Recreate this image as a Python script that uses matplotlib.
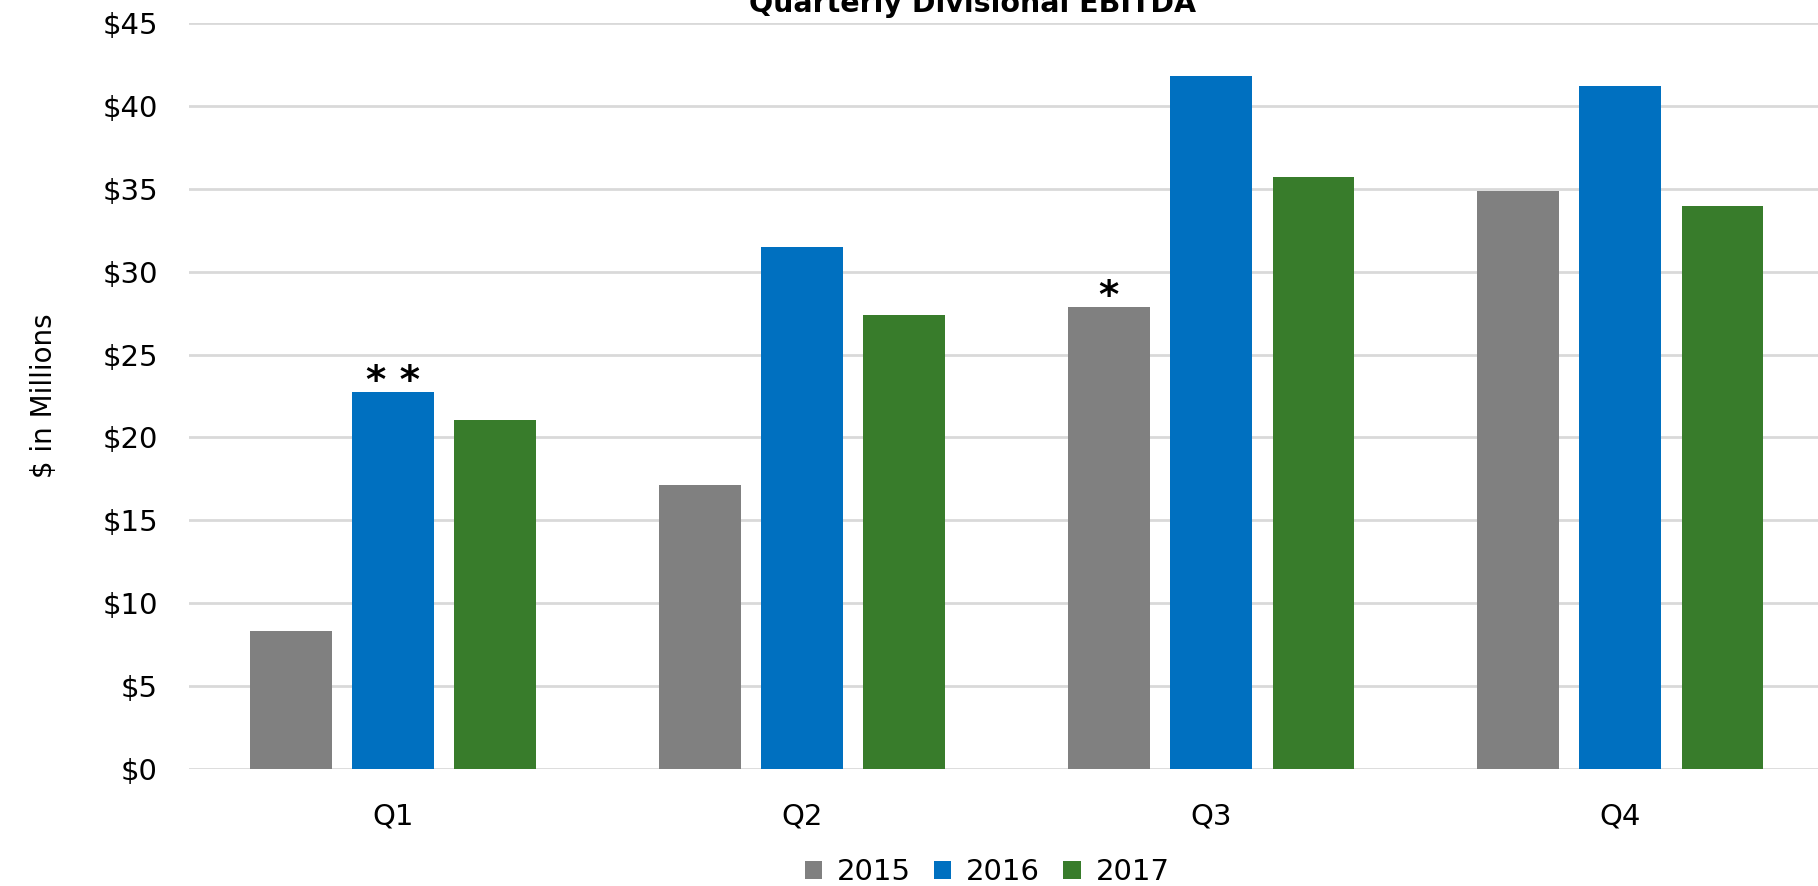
import matplotlib
matplotlib.use("Agg")
from matplotlib import pyplot as plt
import numpy as np

quarters = ['Q1', 'Q2', 'Q3', 'Q4']
years = ['2015', '2016', '2017']
ebitda_2015 = [8.35, 17.15, 27.85, 34.85]
ebitda_2016 = [22.75, 31.5, 41.8, 41.2]
ebitda_2017 = [21.05, 27.4, 35.7, 33.95]
notes = {(0, 1): '* *', (2, 0): '*'}  # (quarter, year index) -> footnote mark

colors = ['#808080', '#0070C0', '#387C2B']
series = [ebitda_2015, ebitda_2016, ebitda_2017]

fig = plt.figure(figsize=(18.18, 8.86), dpi=100)
ax = fig.add_axes([0.1037, 0.132, 0.9, 0.842])

x = np.arange(len(quarters))
w = 0.2
step = 0.25
for i, (vals, c, y) in enumerate(zip(series, colors, years)):
    ax.bar(x + (i - 1) * step, vals, width=w, color=c, label=y, zorder=3)

for (q, i), mark in notes.items():
    ax.text(x[q] + (i - 1) * step, series[i][q] - 0.55, mark, ha='center', va='bottom',
            fontsize=28, fontweight='bold', zorder=4)

ax.set_xlim(-0.5, len(quarters) - 0.5)
ax.set_ylim(0, 45)
ax.set_yticks(np.arange(0, 46, 5))
ax.set_yticklabels(['${}'.format(v) for v in range(0, 46, 5)])
ax.set_xticks(x)
ax.set_xticklabels(quarters)
ax.tick_params(axis='both', length=0, labelsize=21)
ax.tick_params(axis='x', pad=24)
ax.tick_params(axis='y', pad=22)
ax.grid(axis='y', color='#d9d9d9', linewidth=2, zorder=0)
for s in ax.spines.values():
    s.set_visible(False)

ax.set_ylabel('$ in Millions', fontsize=20, labelpad=32)

fig.text(0.535, 0.995, 'Quarterly Divisional EBITDA', ha='center', va='center',
         fontsize=20.5, fontweight='bold')

ax.legend(loc='upper center', bbox_to_anchor=(0.488, -0.112), ncol=3, frameon=False,
          fontsize=21, handlelength=0.6, handleheight=0.6, handletextpad=0.5,
          columnspacing=0.8, borderaxespad=0, borderpad=0.2)

fig.savefig('out.png', dpi=100)
